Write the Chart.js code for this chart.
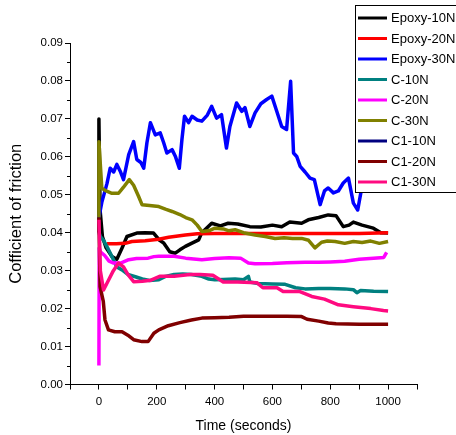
<!DOCTYPE html>
<html>
<head>
<meta charset="utf-8">
<script src="https://cdn.jsdelivr.net/npm/chart.js@4"></script>
<style>
html,body{margin:0;padding:0;background:#fff;}
#wrap{width:456px;height:435px;}
</style>
</head>
<body>
<div id="wrap"><canvas id="c" width="456" height="435"></canvas></div>
<script>
// ---- data ----
const seriesNames = ["Epoxy-10N","Epoxy-20N","Epoxy-30N","C-10N","C-20N","C-30N","C1-10N","C1-20N","C1-30N"];
const seriesColors = ["#000000","#ff0000","#0000ff","#008080","#ff00ff","#808000","#000080","#800000","#ff0a80"];

const epoxy10X = [0,0,4,12,25,45,62,80,97,131,160,189,210,224,245,264,280,299,320,345,355,390,420,447,480,522,560,600,632,660,701,724,760,793,820,845,865,880,910,949,975,1000];
const epoxy10Y = [0.040,0.070,0.046,0.039,0.036,0.0337,0.033,0.036,0.039,0.0399,0.0400,0.0399,0.038,0.0373,0.035,0.0346,0.0355,0.0364,0.0372,0.0381,0.0399,0.0425,0.0418,0.0425,0.0423,0.0416,0.0415,0.0420,0.0416,0.0428,0.0425,0.0434,0.0440,0.0447,0.0445,0.0416,0.0420,0.0428,0.0420,0.0412,0.0400,0.0399];

const epoxy20X = [28,60,91,114,160,207,241,299,340,400,500,600,700,800,900,1000];
const epoxy20Y = [0.0371,0.0371,0.0372,0.0377,0.0379,0.0383,0.0388,0.0394,0.0397,0.0398,0.0398,0.0398,0.0398,0.0398,0.0398,0.0400];

const epoxy30X = [0,10,28,39,51,62,75,85,103,120,131,145,155,166,178,195,212,224,235,253,265,278,287,296,310,322,340,356,375,390,407,424,441,453,476,494,505,522,540,560,580,598,615,632,649,663,673,684,696,713,730,745,765,780,793,811,828,845,863,880,895,909,930,960,1000];
const epoxy30Y = [0.044,0.048,0.053,0.057,0.056,0.058,0.056,0.054,0.0606,0.064,0.0593,0.0585,0.057,0.0637,0.069,0.0658,0.0663,0.0637,0.061,0.0619,0.060,0.057,0.0645,0.0707,0.069,0.0707,0.0697,0.0694,0.071,0.0733,0.0702,0.0711,0.0623,0.068,0.0742,0.072,0.073,0.068,0.0716,0.074,0.0751,0.076,0.072,0.068,0.0672,0.0799,0.061,0.0601,0.0575,0.0560,0.0544,0.0540,0.0474,0.0510,0.0518,0.0505,0.0510,0.0531,0.0544,0.0478,0.0460,0.0519,0.0550,0.0560,0.0560];

const c10X = [0,5,16,30,45,62,80,100,126,150,175,207,230,260,290,320,356,380,401,430,471,500,517,522,550,600,644,680,713,760,800,850,880,892,905,950,1000];
const c10Y = [0.040,0.039,0.038,0.036,0.0337,0.031,0.0302,0.029,0.0284,0.0278,0.0274,0.0276,0.0285,0.0290,0.0291,0.0290,0.0285,0.0278,0.0276,0.0277,0.0278,0.0276,0.0285,0.0270,0.0266,0.0265,0.0264,0.0255,0.0252,0.0253,0.0253,0.0252,0.0250,0.0242,0.0248,0.0246,0.0245];

const c20X = [0,1,5,20,35,51,75,103,130,170,190,207,260,300,356,400,450,490,517,540,600,650,713,760,800,850,900,950,985,995];
const c20Y = [0.005,0.036,0.035,0.034,0.0325,0.032,0.032,0.0329,0.0332,0.0333,0.0337,0.0338,0.0338,0.0333,0.0329,0.0332,0.0334,0.0333,0.0320,0.0318,0.0319,0.0321,0.0322,0.0322,0.0323,0.0325,0.0330,0.0333,0.0335,0.0348];

const c30X = [0,0,10,25,45,68,85,105,120,137,149,175,207,230,253,280,300,322,340,356,380,401,430,450,471,500,540,575,609,640,670,701,725,747,770,790,817,850,880,910,940,970,1000];
const c30Y = [0.044,0.064,0.0517,0.051,0.0504,0.0504,0.052,0.054,0.0525,0.0496,0.0474,0.0472,0.0469,0.0462,0.0456,0.0448,0.0440,0.0434,0.0420,0.0403,0.0405,0.0412,0.0410,0.0405,0.0408,0.0400,0.0394,0.0390,0.0385,0.0387,0.0385,0.0385,0.0380,0.0360,0.0375,0.0378,0.0377,0.0372,0.0377,0.0374,0.0378,0.0372,0.0377];

const c1_10X = [];
const c1_10Y = [];

const c1_20X = [0,4,15,21,33,55,80,100,120,149,170,190,207,240,280,320,356,400,450,500,550,600,650,701,720,760,793,820,900,1000];
const c1_20Y = [0.044,0.0258,0.022,0.017,0.0144,0.0139,0.0139,0.0130,0.0118,0.0113,0.0113,0.0135,0.0144,0.0155,0.0163,0.0170,0.0175,0.0176,0.0177,0.0180,0.0180,0.0180,0.0180,0.0179,0.0172,0.0167,0.0162,0.0160,0.0159,0.0159];

const c1_30X = [0,5,16,30,50,68,85,100,120,150,180,210,260,315,350,394,430,480,547,567,616,637,695,736,780,828,880,940,984,1000];
const c1_30Y = [0.0434,0.030,0.0249,0.027,0.030,0.032,0.031,0.029,0.0271,0.0272,0.0275,0.0285,0.0285,0.029,0.029,0.0288,0.027,0.027,0.0268,0.0255,0.0255,0.0245,0.0245,0.0232,0.0225,0.021,0.0205,0.020,0.0195,0.0194];

const xTickLabels = [0,200,400,600,800,1000];

// ---- build datasets ----
const allX = [epoxy10X,epoxy20X,epoxy30X,c10X,c20X,c30X,c1_10X,c1_20X,c1_30X];
const allY = [epoxy10Y,epoxy20Y,epoxy30Y,c10Y,c20Y,c30Y,c1_10Y,c1_20Y,c1_30Y];
const datasets = seriesNames.map((name,i)=>({
  label: name,
  data: allX[i].map((x,j)=>({x:x,y:allY[i][j]})),
  borderColor: seriesColors[i],
  backgroundColor: seriesColors[i],
  borderWidth: 3.5,
  pointRadius: 0,
  showLine: true,
  tension: 0,
  borderJoinStyle: 'round',
  order: seriesNames.length - i
}));

const FONT = "'Liberation Sans', Arial, sans-serif";

const extras = {
  id: 'extras',
  afterDraw(chart){
    const ctx = chart.ctx;
    const ys = chart.scales.y;
    const area = chart.chartArea;
    ctx.save();
    // minor y ticks
    ctx.strokeStyle = '#000';
    ctx.lineWidth = 1;
    for (let v = 0.005; v < 0.09; v += 0.01){
      const py = Math.round(ys.getPixelForValue(v)) + 0.5;
      ctx.beginPath();
      ctx.moveTo(area.left - 3, py);
      ctx.lineTo(area.left, py);
      ctx.stroke();
    }
    // legend box
    const bx = 355.5, by = 5.5, bw = 130, bh = 187;
    ctx.fillStyle = '#fff';
    ctx.fillRect(bx, by, bw, bh);
    ctx.strokeStyle = '#000';
    ctx.lineWidth = 1;
    ctx.strokeRect(bx, by, bw, bh);
    ctx.font = "13px " + FONT;
    ctx.textBaseline = 'middle';
    ctx.textAlign = 'left';
    chart.data.datasets.forEach((ds,i)=>{
      const cy = 18 + i*20.5;
      ctx.strokeStyle = ds.borderColor;
      ctx.lineWidth = 3;
      ctx.beginPath();
      ctx.moveTo(358, cy);
      ctx.lineTo(387, cy);
      ctx.stroke();
      ctx.fillStyle = '#000';
      ctx.fillText(ds.label, 391, cy + 0.5);
    });
    ctx.restore();
  }
};

new Chart(document.getElementById('c'), {
  type: 'scatter',
  data: { datasets: datasets },
  options: {
    responsive: false,
    animation: false,
    devicePixelRatio: 1,
    layout: { padding: { top: 43, right: 39, left: 0, bottom: 0 } },
    plugins: { legend: { display: false }, tooltip: { enabled: false } },
    scales: {
      x: {
        type: 'linear',
        min: -100, max: 1100,
        afterFit(scale){ scale.height = 50.5; },
        border: { color: '#000', width: 1 },
        grid: { drawOnChartArea: false, drawTicks: true, tickLength: 5, tickColor: '#000' },
        ticks: {
          stepSize: 100, autoSkip: false, maxRotation: 0, padding: 5,
          color: '#000', font: { family: FONT, size: 11.5 },
          callback: (v) => xTickLabels.includes(v) ? String(v) : ''
        },
        title: { display: true, text: 'Time (seconds)', color: '#000',
                 font: { family: FONT, size: 14 }, padding: { top: 0, bottom: 0 } }
      },
      y: {
        type: 'linear',
        min: 0, max: 0.09,
        afterFit(scale){ scale.width = 70; },
        border: { color: '#000', width: 1 },
        grid: { drawOnChartArea: false, drawTicks: true, tickLength: 5, tickColor: '#000' },
        ticks: {
          stepSize: 0.01, autoSkip: false, padding: 2,
          color: '#000', font: { family: FONT, size: 11.5 },
          callback: (v) => Number(v).toFixed(2)
        },
        title: { display: true, text: 'Cofficient of friction', color: '#000',
                 font: { family: FONT, size: 16.5 }, padding: { top: 7, bottom: 0 } }
      }
    }
  },
  plugins: [extras]
});
</script>
</body>
</html>
